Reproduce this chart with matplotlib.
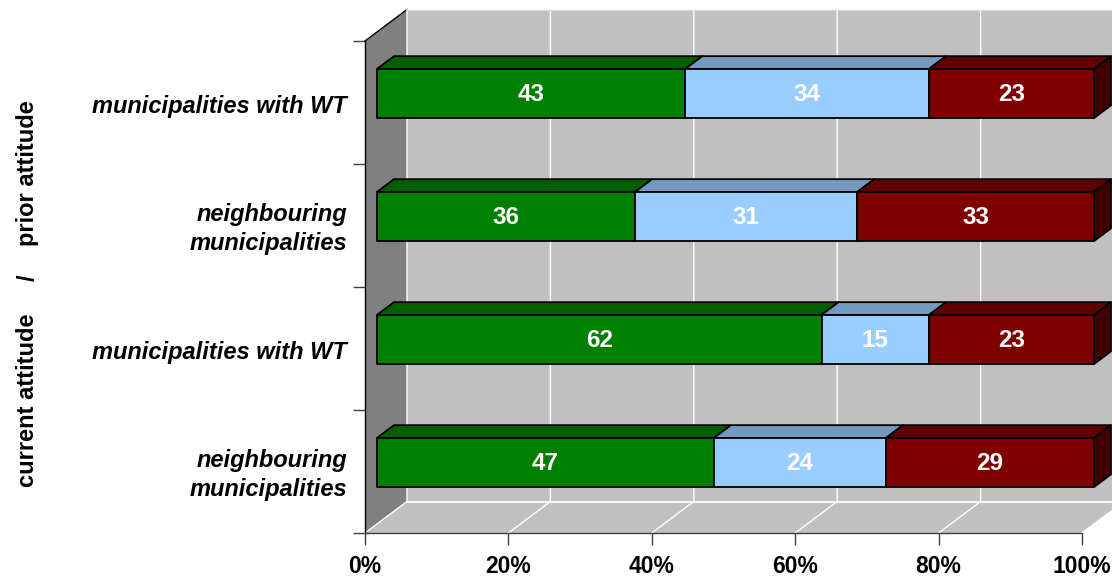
import matplotlib
matplotlib.use("Agg")
import matplotlib.pyplot as plt
from matplotlib.patches import Polygon
from matplotlib.transforms import ScaledTranslation

plt.rcParams['font.family'] = ['Liberation Sans', 'DejaVu Sans']

# Rows listed bottom to top
categories = ["neighbouring\nmunicipalities", "municipalities with WT",
              "neighbouring\nmunicipalities", "municipalities with WT"]
green_values = [47, 62, 36, 43]
blue_values = [24, 15, 31, 34]
red_values = [29, 23, 33, 23]
x_ticks = [0, 20, 40, 60, 80, 100]
x_tick_labels = ["0%", "20%", "40%", "60%", "80%", "100%"]

front_colors = ["#008000", "#99CCFF", "#800000"]
top_colors = ["#006000", "#7399BF", "#600000"]
side_color = "#400000"

W, H = 1112, 578
fig = plt.figure(figsize=(W / 100, H / 100), dpi=100, facecolor="white")
ax = fig.add_axes([365 / W, 1 - 533 / H, 717 / W, 492 / H])
ax.set_xlim(0, 100)
ax.set_ylim(0, 4)
ax.patch.set_visible(False)

# Oblique projection: depth 0 is the front plane, depth 1 the back wall
DX, DY = 42 / 7.17, 31.5 / 123


def p(x, y, d=0.0):
    return (x + DX * d, y + DY * d)


def face(points, color, edge="none", lw=0.0, z=1):
    ax.add_patch(Polygon(points, closed=True, facecolor=color, edgecolor=edge,
                         linewidth=lw, zorder=z, clip_on=False, joinstyle="round"))


# Walls and floor
face([p(0, 0), p(0, 4), p(0, 4, 1), p(0, 0, 1)], "#808080")
face([p(0, 0, 1), p(0, 4, 1), p(100, 4, 1), p(100, 0, 1)], "#C0C0C0")
face([p(0, 0), p(100, 0), p(100, 0, 1), p(0, 0, 1)], "#C0C0C0")
ax.plot(*zip(p(0, 4), p(0, 4, 1)), color="black", lw=1, zorder=2, clip_on=False)

# Gridlines on the back wall and floor
for t in x_ticks:
    ax.plot(*zip(p(t, 0), p(t, 0, 1), p(t, 4, 1)), color="white", lw=1,
            zorder=2, clip_on=False)
ax.plot(*zip(p(0, 0, 1), p(100, 0, 1)), color="white", lw=1.3, zorder=2, clip_on=False)
ax.plot(*zip(p(0, 4, 1), p(100, 4, 1)), color="#D8D8D8", lw=1, zorder=2, clip_on=False)

# Stacked 3D bars
D0, D1 = 0.285, 0.69
HALF = 0.2
EDGE = 1.3
for row, vals in enumerate(zip(green_values, blue_values, red_values)):
    yc = row + 0.5
    lo, hi = yc - HALF, yc + HALF
    left = 0
    for i, v in enumerate(vals):
        right = left + v
        face([p(left, hi, D0), p(right, hi, D0), p(right, hi, D1), p(left, hi, D1)],
             top_colors[i], "black", EDGE, 3 + row)
        face([p(left, lo, D0), p(right, lo, D0), p(right, hi, D0), p(left, hi, D0)],
             front_colors[i], "black", EDGE, 3.2 + row)
        cx, cy = p(left + v / 2, yc, D0)
        ax.text(cx, cy - 0.005, str(v), color="white", ha="center", va="center",
                fontsize=17.5, fontweight="bold", zorder=10)
        left = right
    face([p(100, lo, D0), p(100, hi, D0), p(100, hi, D1), p(100, lo, D1)],
         side_color, "black", EDGE, 3.1 + row)

# Axes furniture
for s in ("top", "right"):
    ax.spines[s].set_visible(False)
ax.spines["left"].set_color("black")
ax.spines["bottom"].set_color("#404040")
ax.spines["left"].set_linewidth(1)
ax.spines["bottom"].set_linewidth(1)

ax.set_xticks(x_ticks)
ax.set_xticklabels(x_tick_labels, fontsize=16.5, fontweight="bold")
ax.tick_params(axis="x", length=8.5, width=1, color="#404040", pad=7)

ax.set_yticks([0, 1, 2, 3, 4])
ax.set_yticklabels([])
ax.tick_params(axis="y", which="major", length=9, width=1, color="#404040")
ax.set_yticks([0.5, 1.5, 2.5, 3.5], minor=True)
ax.set_yticklabels(categories, minor=True, fontsize=17, fontweight="bold",
                   fontstyle="italic", ha="right", va="center", linespacing=1.36)
ax.tick_params(axis="y", which="minor", length=0, pad=13)

# Nudge the row names down a little
nudge = ScaledTranslation(0, -3.5 / 100, fig.dpi_scale_trans)
for lab in ax.get_yticklabels(minor=True):
    lab.set_transform(lab.get_transform() + nudge)

# Rotated axis caption
fig.text(28 / W, 1 - 173 / H, "prior attitude", rotation=90, ha="center", va="center",
         fontsize=17, fontweight="bold")
fig.text(28 / W, 1 - 278 / H, "/", rotation=90, ha="center", va="center",
         fontsize=17, fontweight="bold")
fig.text(28 / W, 1 - 400 / H, "current attitude", rotation=90, ha="center", va="center",
         fontsize=17, fontweight="bold")

fig.savefig("out.png", dpi=100, facecolor="white")
